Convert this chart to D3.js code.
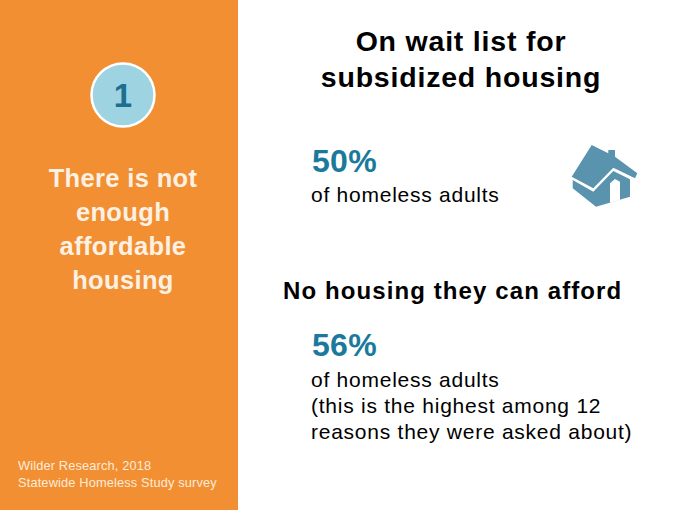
<!DOCTYPE html>
<html><head><meta charset="utf-8">
<script src="https://cdn.jsdelivr.net/npm/d3@7"></script>
<style>html,body{margin:0;padding:0;background:#fff;}svg{display:block;font-family:"Liberation Sans",Arial,sans-serif;}</style>
</head><body>
<svg id="c" width="680" height="510"></svg>
<script>
const badgeNumber = "1";
const panelLines = ["There is not", "enough", "affordable", "housing"];
const sourceLines = ["Wilder Research, 2018", "Statewide Homeless Study survey"];
const titleLines = ["On wait list for", "subsidized housing"];
const statHeadings = ["", "No housing they can afford"];
const statValues = [50, 56];
const statNotes = [["of homeless adults"], ["of homeless adults", "(this is the highest among 12", "reasons they were asked about)"]];

const svg = d3.select("#c");
svg.append("rect").attr("x",0).attr("y",0).attr("width",680).attr("height",510).attr("fill","#fff");
svg.append("rect").attr("x",0).attr("y",0).attr("width",238).attr("height",510).attr("fill","#F28F33");

// badge
svg.append("circle").attr("cx",123).attr("cy",95).attr("r",31.5)
  .attr("fill","#9ED3E1").attr("stroke","#fff").attr("stroke-width",2.5);
svg.append("text").attr("x",123).attr("y",107).attr("text-anchor","middle")
  .attr("font-size",33).attr("font-weight","bold").attr("fill","#1C6F8F").text(badgeNumber);

// panel text
svg.selectAll("text.pl").data(panelLines).join("text").attr("class","pl")
  .attr("x",123).attr("y",(d,i)=>187+i*34).attr("text-anchor","middle")
  .attr("font-size",25.5).attr("letter-spacing",0.35).attr("font-weight","bold").attr("fill","#FDF1E4").text(d=>d);

svg.selectAll("text.src").data(sourceLines).join("text").attr("class","src")
  .attr("x",18).attr("y",(d,i)=>470+i*17)
  .attr("font-size",12.8).attr("letter-spacing",0.15).attr("fill","#FDEBD9").text(d=>d);

// title
svg.selectAll("text.tt").data(titleLines).join("text").attr("class","tt")
  .attr("x",461).attr("y",(d,i)=>51+i*36).attr("text-anchor","middle")
  .attr("font-size",28.5).attr("letter-spacing",0.8).attr("font-weight","bold").attr("fill","#000").text(d=>d);

// stats
const statY = [171.5, 356];
const fmt = d => d3.format("d")(d) + "%";
statValues.forEach((v,i)=>{
  if (statHeadings[i]) {
    svg.append("text").attr("x",283).attr("y",299).attr("font-size",24).attr("letter-spacing",1.1)
      .attr("font-weight","bold").attr("fill","#000").text(statHeadings[i]);
  }
  svg.append("text").attr("x",312).attr("y",statY[i]).attr("font-size",32).attr("letter-spacing",0.3)
    .attr("font-weight","bold").attr("fill","#1B7A9C").text(fmt(v));
  svg.selectAll("text.n"+i).data(statNotes[i]).join("text").attr("class","n"+i)
    .attr("x",311).attr("y",(d,j)=>statY[i]+30.5+j*26)
    .attr("font-size",21).attr("letter-spacing",0.75).attr("fill","#000").text(d=>d);
});

// house icon
const house = svg.append("g").attr("fill","#5A93AE");
house.append("path").attr("d","M571.7,176.7 L591.7,145 L608.3,153.3 L608.3,150 L615,150 L615,156.7 L637.3,173.3 L635,178.3 L613.3,167.7 L593.3,188.3 Z");
house.append("path").attr("d","M572.7,180 L593.3,191.7 L613.3,171 L630,179.3 L630,196.7 L596,206.7 L572.7,188.3 Z");
house.append("path").attr("fill","#fff").attr("d","M610,183.3 L615,179 L620,181.7 L620,200 L610,202.7 Z");
</script>
</body></html>
